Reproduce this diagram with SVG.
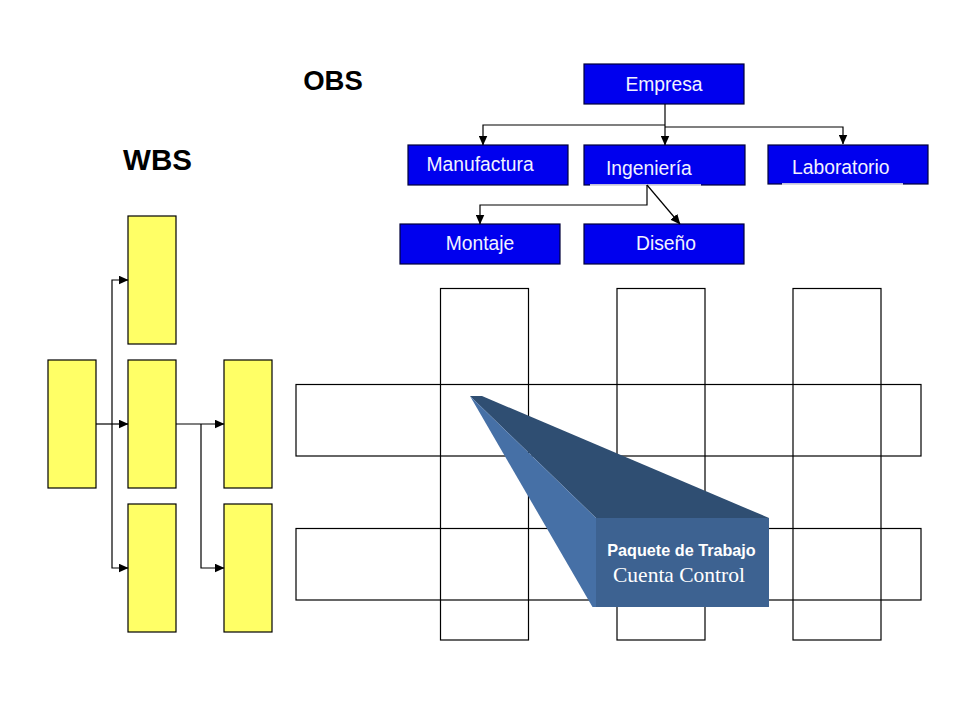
<svg xmlns="http://www.w3.org/2000/svg" width="960" height="720" viewBox="0 0 960 720">
<style>
.title{font-family:"Liberation Sans",Arial,sans-serif;font-weight:bold;fill:#000;text-anchor:middle}
.obs rect{fill:#0000EE;stroke:#00003A;stroke-width:1.2}
.obs text{font-family:"Liberation Sans",Arial,sans-serif;font-size:19.3px;fill:#F2F2FF}
.wbs rect{fill:#FFFF66;stroke:#000;stroke-width:1.2}
.grid rect{fill:none;stroke:#000;stroke-width:1.2}
.conn path{fill:none;stroke:#000;stroke-width:1.2}
</style>
<defs>
<marker id="ah" markerWidth="10" markerHeight="9" refX="9.5" refY="4.5" orient="auto" markerUnits="userSpaceOnUse">
<path d="M0,0 L10,4.5 L0,9 Z" fill="#000"/>
</marker>
</defs>
<rect width="960" height="720" fill="#fff"/>

<text class="title" x="333" y="89.5" font-size="27.5">OBS</text>
<text class="title" x="157.5" y="169.5" font-size="29.5">WBS</text>

<!-- OBS nodes -->
<g class="obs">
<g id="empresa"><rect x="584" y="64" width="160" height="40"/><text x="664" y="91" text-anchor="middle">Empresa</text></g>
<g id="manufactura"><rect x="408" y="145" width="160" height="40"/><text x="426.5" y="170.5">Manufactura</text></g>
<g id="ingenieria"><rect x="584" y="145" width="161" height="40"/><line x1="590" y1="185" x2="701" y2="185" stroke="#fff" stroke-width="1.6"/><text x="606" y="174.5">Ingeniería</text></g>
<g id="laboratorio"><rect x="768" y="145" width="160" height="39"/><line x1="782" y1="184" x2="903" y2="184" stroke="#fff" stroke-width="1.6"/><text x="792" y="174">Laboratorio</text></g>
<g id="montaje"><rect x="400" y="224" width="160" height="40"/><text x="480" y="250" text-anchor="middle">Montaje</text></g>
<g id="diseno"><rect x="584" y="224" width="160" height="40"/><text x="666" y="249.5" text-anchor="middle">Diseño</text></g>
</g>

<!-- WBS nodes -->
<g class="wbs">
<g id="w0"><rect x="48" y="360" width="48" height="128"/></g>
<g id="w1"><rect x="128" y="216" width="48" height="128"/></g>
<g id="w2"><rect x="128" y="360" width="48" height="128"/></g>
<g id="w3"><rect x="128" y="504" width="48" height="128"/></g>
<g id="w4"><rect x="224" y="360" width="48" height="128"/></g>
<g id="w5"><rect x="224" y="504" width="48" height="128"/></g>
</g>

<!-- connectors -->
<g class="conn">
<path d="M665,104 V145" marker-end="url(#ah)"/>
<path d="M665,125 H483 V145" marker-end="url(#ah)"/>
<path d="M665,127 H843 V144" marker-end="url(#ah)"/>
<path d="M647,185 V205 H480 V224" marker-end="url(#ah)"/>
<path d="M647,185 L680,224" marker-end="url(#ah)"/>
<path d="M96,424 H128" marker-end="url(#ah)"/>
<path d="M112,424 V280 H128" marker-end="url(#ah)"/>
<path d="M112,424 V568 H128" marker-end="url(#ah)"/>
<path d="M176,424 H224" marker-end="url(#ah)"/>
<path d="M201,424 V568 H224" marker-end="url(#ah)"/>
</g>

<!-- matrix grid -->
<g class="grid" id="matrix">
<rect x="440.5" y="288.5" width="88" height="351.5"/>
<rect x="617" y="288.5" width="88" height="351.5"/>
<rect x="793" y="288.5" width="88" height="351.5"/>
<rect x="296" y="384.5" width="625" height="71.5"/>
<rect x="296" y="528.5" width="625" height="71.5"/>
</g>

<!-- work package callout -->
<g id="paquete">
<polygon points="470,396 482,396 769,518 596,518" fill="#2F4E72"/>
<polygon points="470,396 596,518 596,607 592.5,607" fill="#4670A6"/>
<rect x="596" y="518" width="173" height="89" fill="#3D6291"/>
<text x="681.5" y="556" text-anchor="middle" font-family="Liberation Sans, Arial, sans-serif" font-weight="bold" font-size="16.2" fill="#fff">Paquete de Trabajo</text>
<text x="679" y="582" text-anchor="middle" font-family="Liberation Serif, Times New Roman, serif" font-size="21.5" fill="#fff">Cuenta Control</text>
</g>
</svg>
